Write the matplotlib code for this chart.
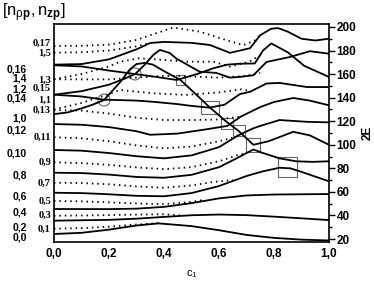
import matplotlib
matplotlib.use('Agg')
import matplotlib.pyplot as plt
from matplotlib.patches import Rectangle, Ellipse

plt.rcParams['font.family'] = 'Liberation Sans'
plt.rcParams['mathtext.fontset'] = 'custom'
plt.rcParams['mathtext.rm'] = 'Liberation Sans'
plt.rcParams['mathtext.it'] = 'Liberation Sans'
plt.rcParams['mathtext.bf'] = 'Liberation Sans:bold'

# solid levels: (c1, 2E)
x_00 = [0, .1, .2, .3, .38, .5, .6, .7, .8, .9, 1]
e_00 = [24.3, 25.3, 28, 31.5, 33.3, 31, 27.5, 23.5, 21, 19.5, 18.8]
x_02 = [0, .2, .3, .4, .5, .6, .7, .8, .9, 1]
e_02 = [35.6, 36.3, 37.3, 38.8, 40.2, 40.8, 40.3, 39, 37.6, 36.1]
x_04 = [0, .2, .3, .4, .5, .6, .7, .8, .9, 1]
e_04 = [45.5, 45.4, 45.8, 47.3, 50.5, 54.5, 57, 57.8, 58, 58.2]
x_06 = [0, .1, .2, .3, .4, .5, .6, .7, .76, .82, .86, .9, .95, 1]
e_06 = [59.3, 59, 58, 56.7, 56.3, 59, 65, 73.5, 77.5, 80.5, 80, 77, 73, 69]
x_08 = [0, .1, .2, .3, .4, .5, .6, .66, .7, .725, .76, .82, .88, .94, 1]
e_08 = [76.3, 76, 74.7, 72.7, 72, 74.5, 81, 88, 93, 96, 93, 88.5, 86, 85.5, 86]
x_010 = [0, .1, .2, .3, .4, .5, .6, .67, .725, .75, .82, .92, 1]
e_010 = [95.6, 95, 93, 90.3, 88.5, 91, 98, 108, 114, 116, 121, 119.5, 119]
x_012 = [0, .1, .2, .3, .35, .45, .55, .63, .68, .75, .8, .87, .93, 1]
e_012 = [117.6, 117, 115, 111.5, 108.5, 109.5, 113, 116, 124, 132, 136.3, 139.7, 137.5, 133.5]
x_10 = [0, .05, .095, .14, .182, .24, .276, .3, .33, .36, .4, .46, .52, .565, .63, .67, .725, .78, .87, .93, 1]
e_10 = [126, 127.5, 130.5, 134, 138, 153, 164, 168.5, 169.5, 168, 162.5, 155, 142, 132, 119, 112, 100, 103, 111, 108, 100]
x_014 = [0, .1, .182, .3, .36, .45, .5, .565, .62, .676, .713, .773, .82, .92, 1]
e_014 = [142.5, 141, 138.3, 137.5, 136.5, 134.5, 133, 131.5, 134, 143, 145, 152, 152.5, 149, 149]
x_12 = [0, .1, .2, .25, .295, .33, .36, .385, .42, .446, .53, .59, .64, .676, .725, .773, .858, .93, 1]
e_12 = [142.5, 145.5, 151, 155.5, 160, 168, 176, 180.5, 178, 173, 162, 161, 157, 157.6, 159, 170.3, 174.5, 179.4, 177.3]
x_016 = [0, .1, .2, .295, .36, .446, .52, .58, .63, .676, .73, .76, .79, .85, .91, 1]
e_016 = [167.5, 166.5, 163, 160, 158, 155, 160, 165, 168, 168.8, 169, 180, 186, 178.5, 167, 157.5]
x_14 = [0, .1, .2, .3, .35, .4, .5, .567, .64, .713, .75, .79, .815, .85, .9, .95, 1]
e_14 = [168, 168.5, 172.5, 181, 186.4, 187.3, 186.5, 184.7, 178, 182, 193, 198.5, 199, 196, 190, 188.5, 190]

# dotted levels
xd_01 = [0, .1, .2, .3, .38]
ed_01 = [28.8, 29.3, 30.5, 32.3, 33.5]
xd_03 = [0, .1, .2, .3, .4, .47]
ed_03 = [39.8, 40, 40.3, 40.8, 41, 40]
xd_05 = [0, .1, .2, .3, .4, .5, .55]
ed_05 = [52.3, 52, 51.2, 50.2, 49.6, 51.5, 53.5]
xd_07 = [0, .1, .2, .3, .4, .5, .58, .65]
ed_07 = [67.8, 67.5, 66.5, 64.7, 63.5, 65.5, 68.5, 70]
xd_09 = [0, .1, .2, .3, .4, .5, .6, .665, .7]
ed_09 = [85.1, 84.5, 83, 80.8, 79.3, 81, 86, 91, 93]
xd_011 = [0, .1, .2, .3, .4, .5, .6, .65]
ed_011 = [106.4, 105.5, 103, 99.5, 97, 98.5, 103, 106]
xd_013 = [0, .1, .2, .3, .4, .5, .6, .68]
ed_013 = [129.5, 129, 126.5, 123, 121, 121, 121.5, 124]
xd_11 = [0, .1, .2, .24, .36, .48, .6, .68, .72]
ed_11 = [130, 135.5, 143, 146.5, 143.7, 142.3, 144.5, 147, 145.5]
xd_015 = [0, .1, .2, .3, .4, .5, .6, .7, .75]
ed_015 = [155.6, 155.5, 155.5, 157, 158.5, 158, 157, 158.5, 161]
xd_13 = [0, .1, .2, .24, .31, .4, .48, .58, .64, .71, .75]
ed_13 = [155.6, 160, 166.5, 170.5, 173.4, 172, 170.5, 170.5, 166.3, 170.5, 176]
xd_15 = [0, .1, .2, .3, .35]
ed_15 = [178.2, 178.5, 180, 183.5, 186.4]
xd_017 = [0, .1, .2, .3, .35, .434, .53, .628, .688, .73, .755]
ed_017 = [183.9, 184, 185, 189, 193, 199.5, 196, 188.7, 184.5, 188.5, 194.3]

solid = [(x_00, e_00), (x_02, e_02), (x_04, e_04), (x_06, e_06), (x_08, e_08),
         (x_010, e_010), (x_012, e_012), (x_10, e_10), (x_014, e_014),
         (x_12, e_12), (x_016, e_016), (x_14, e_14)]
dotted = [(xd_01, ed_01), (xd_03, ed_03), (xd_05, ed_05), (xd_07, ed_07),
          (xd_09, ed_09), (xd_011, ed_011), (xd_013, ed_013), (xd_11, ed_11),
          (xd_015, ed_015), (xd_13, ed_13), (xd_15, ed_15), (xd_017, ed_017)]

# left labels
outer_labels = ['0,0', '0,2', '0,4', '0,6', '0,8', '0,10', '0,12', '1,0', '0,14', '1,2', '1,4', '0,16']
outer_pos = [20.9, 30.2, 42.9, 56.5, 74.3, 93, 111.7, 122.7, 138.9, 146.5, 155.9, 164.3]
inner_labels = ['0,1', '0,3', '0,5', '0,7', '0,9', '0,11', '0,13', '1,1', '0,15', '1,3', '1,5', '0,17']
inner_pos = [28.5, 40.4, 52.3, 67.6, 85.4, 106.6, 129.5, 138, 148.2, 155, 177.9, 186.4]

# avoided crossings (boxes) and crossings (circles)
boxes = [(.444, .476, 150.8, 159.2), (.533, .601, 125.9, 137.2), (.607, .652, 113.7, 123),
         (.650, .695, 107.5, 116.5), (.698, .749, 93.9, 105.8), (.813, .884, 72.9, 89.9)]
circles = [(.182, 138), (.295, 160.1)]

fig = plt.figure(figsize=(3.74, 2.84), dpi=100)
ax = fig.add_axes([54/374, 42/284, 275/374, 218/284])

for xs, es in solid:
    ax.plot(xs, es, color='black', lw=1.3, solid_joinstyle='round')
for xs, es in dotted:
    ax.plot(xs, es, color='black', lw=1.3, linestyle=(0, (0.8, 2.2)))

for x0, x1, e0, e1 in boxes:
    ax.add_patch(Rectangle((x0, e0), x1 - x0, e1 - e0, fill=False, ec='#666666', lw=0.8))
for cx, ce in circles:
    ax.add_patch(Ellipse((cx, ce), 12/275, 12/1.178, fill=False, ec='#666666', lw=0.8))

ax.set_xlim(0, 1)
ax.set_ylim(17.5, 202.5)
ax.set_xticks([0, .2, .4, .6, .8, 1])
ax.set_xticklabels(['0,0', '0,2', '0,4', '0,6', '0,8', '1,0'], fontsize=8.5, fontweight='bold')
ax.tick_params(axis='x', length=0, pad=4)
ax.yaxis.tick_right()
ax.set_yticks(range(20, 201, 20))
ax.set_yticks(range(30, 200, 20), minor=True)
ax.set_yticklabels([str(v) for v in range(20, 201, 20)], fontsize=8.5, fontweight='bold')
ax.tick_params(axis='y', which='major', direction='out', length=4, width=1, pad=1.5)
ax.tick_params(axis='y', which='minor', direction='out', length=2, width=1)
for s in ax.spines.values():
    s.set_linewidth(1.2)

ax.set_xlabel('c$_1$', fontsize=8, labelpad=6)
ax.yaxis.set_label_position('right')
ax.set_ylabel('2E', fontsize=8.5, fontweight='bold', labelpad=4)

tr = ax.get_yaxis_transform()
for lab, pos in zip(outer_labels, outer_pos):
    ax.text(-0.098, pos, lab, transform=tr, ha='right', va='center', fontsize=7.5, fontweight='bold')
for lab, pos in zip(inner_labels, inner_pos):
    ax.text(-0.011, pos, lab, transform=tr, ha='right', va='center', fontsize=7.5,
            fontweight='bold', family='Liberation Serif')

fig.text(2/374, 1 - 13/284, r'$[n_{\rho \mathbf{p}},n_{\mathbf{zp}}]$', fontsize=12, va='center', ha='left')

fig.savefig('out.png', dpi=100)
